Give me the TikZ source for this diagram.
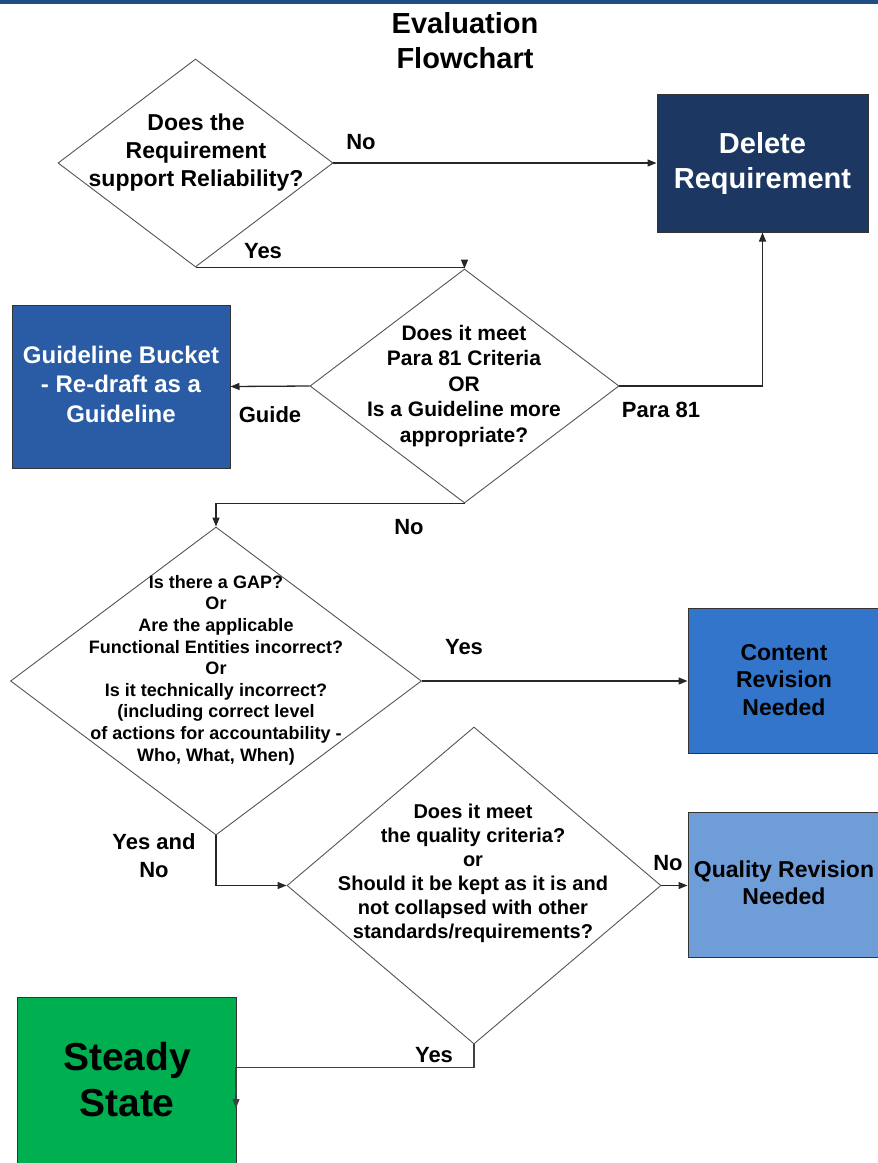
\documentclass[tikz,border=0pt]{standalone}
\usepackage{fontspec}
\setmainfont{Liberation Sans}
\usetikzlibrary{shapes.geometric,arrows.meta}
\definecolor{topbar}{HTML}{1F4E87}
\definecolor{delc}{HTML}{1B3762}
\definecolor{guidec}{HTML}{2A5CA6}
\definecolor{contc}{HTML}{3375CB}
\definecolor{qualc}{HTML}{6F9DD8}
\definecolor{steadyc}{HTML}{00AF50}
\definecolor{dline}{HTML}{555555}
\begin{document}
\begin{tikzpicture}[x=1pt,y=-1pt,
  dec/.style={diamond, draw=dline, line width=0.9pt, inner sep=0pt},
  box/.style={rectangle, draw=black!80, line width=1pt, inner sep=0pt},
  qtext/.style={align=center, inner sep=0pt},
  lbl/.style={font=\fontsize{22}{26}\selectfont\bfseries, inner sep=0pt},
  conn/.style={draw=black!85, line width=1.3pt, -{Triangle[length=9pt,width=7pt]}},
]
\useasboundingbox (0,0) rectangle (878,1163);
\fill[topbar] (0,0) rectangle (878,4);

\node[qtext, font=\fontsize{29}{35}\selectfont\bfseries] (title) at (465,41) {Evaluation\\Flowchart};

% diamonds
\node[dec, minimum width=275pt, minimum height=208pt] (d1) at (195.5,163) {};
\node[qtext, font=\fontsize{23}{28}\selectfont\bfseries] (t1) at (196,153) {Does the\\Requirement\\support Reliability?};

\node[dec, minimum width=309pt, minimum height=234pt] (d2) at (464.5,386) {};
\node[qtext, font=\fontsize{21}{25.5}\selectfont\bfseries] (t2) at (464,386) {Does it meet\\Para 81 Criteria\\OR\\Is a Guideline more\\appropriate?};

\node[dec, minimum width=411pt, minimum height=308pt] (d3) at (216,681) {};
\node[qtext, font=\fontsize{18}{21.6}\selectfont\bfseries] (t3) at (216,670) {Is there a GAP?\\Or\\Are the applicable\\Functional Entities incorrect?\\Or\\Is it technically incorrect?\\(including correct level\\of actions for accountability -\\Who, What, When)};

\node[dec, minimum width=374pt, minimum height=317pt] (d4) at (474,885.5) {};
\node[qtext, font=\fontsize{20}{24}\selectfont\bfseries] (t4) at (473,873) {Does it meet\\the quality criteria?\\or\\Should it be kept as it is and\\not collapsed with other\\standards/requirements?};

% boxes
\node[box, fill=delc, minimum width=211pt, minimum height=138pt, text=white, align=center, font=\fontsize{29}{35}\selectfont\bfseries] (del) at (762.5,163) {Delete\\Requirement};
\node[box, fill=guidec, minimum width=218pt, minimum height=163pt] (guide) at (121,386.5) {};
\node[qtext, text=white, font=\fontsize{24}{29.5}\selectfont\bfseries] (tguide) at (121,384) {Guideline Bucket\\- Re-draft as a\\Guideline};
\node[box, fill=contc, minimum width=196pt, minimum height=145pt] (cont) at (786,680.5) {};
\node[qtext, font=\fontsize{23}{27.5}\selectfont\bfseries] (tcont) at (784,680) {Content\\Revision\\Needed};
\node[box, fill=qualc, minimum width=196pt, minimum height=145pt] (qual) at (786,884.5) {};
\node[qtext, font=\fontsize{23}{27}\selectfont\bfseries] (tqual) at (784,883) {Quality Revision\\Needed};
\node[box, fill=steadyc, minimum width=219pt, minimum height=180pt] (steady) at (126.5,1087) {};
\node[qtext, font=\fontsize{39}{46}\selectfont\bfseries] (tsteady) at (127,1080) {Steady\\State};

% connectors
\draw[conn] (d1.east) -- (del.west);
\node[lbl] (lno1) at (361,142) {No};
\draw[conn] (d1.south) -- (d1.south -| d2.north) -- (d2.north);
\node[lbl] (lyes1) at (263,251) {Yes};
\draw[conn] (d2.west) -- (guide.east);
\node[lbl] (lguide) at (270,415) {Guide};
\draw[conn] (d2.east) -| (del.south);
\node[lbl] (lpara) at (661,410) {Para 81};
\draw[conn] (d2.south) -- (d2.south -| d3.north) -- (d3.north);
\node[lbl] (lno2) at (409,527) {No};
\draw[conn] (d3.east) -- (d3.east -| cont.west);
\node[lbl] (lyes2) at (464,647) {Yes};
\draw[conn] (d3.south) |- (d4.west);
\node[lbl, align=center, font=\fontsize{22}{28}\selectfont\bfseries] (lyesno) at (154,856) {Yes and\\No};
\draw[conn] (d4.east) -- (d4.east -| qual.west);
\node[lbl] (lno3) at (668,863) {No};
\coordinate (send) at (236,1108);
\draw[conn, draw=black!75] (d4.south) -- ++(0,23) -| (send);
\node[lbl] (lyes3) at (434,1055) {Yes};
\end{tikzpicture}
\end{document}
